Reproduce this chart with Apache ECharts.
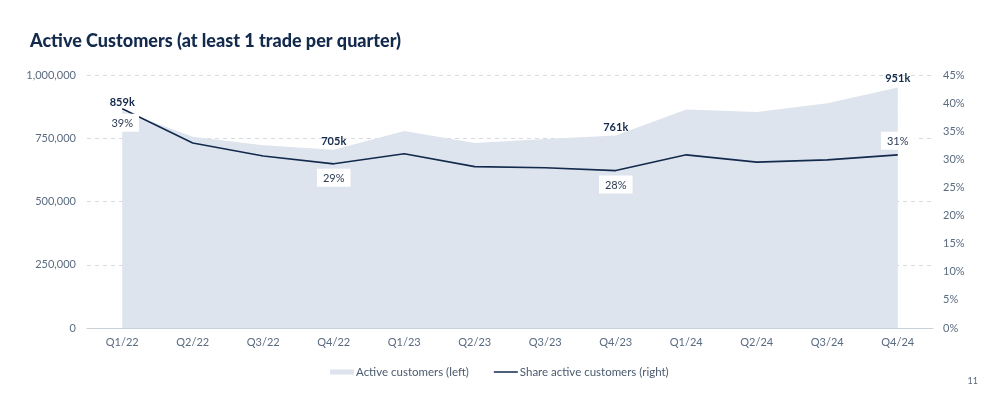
<!DOCTYPE html>
<html><head><meta charset="utf-8">
<script src="https://cdn.jsdelivr.net/npm/echarts@6/dist/echarts.min.js"></script>
<style>html,body{margin:0;padding:0;background:#fff}#c{width:987px;height:394px}</style>
</head><body><div id="c"></div>
<script>
const categories = ['Q1/22','Q2/22','Q3/22','Q4/22','Q1/23','Q2/23','Q3/23','Q4/23','Q1/24','Q2/24','Q3/24','Q4/24'];
const activeCustomers = [859000, 756000, 722000, 705000, 779000, 731000, 747000, 761000, 864000, 854000, 888000, 951000];
const shareActive = [39, 32.9, 30.6, 29.2, 31, 28.7, 28.5, 28, 30.8, 29.5, 29.9, 30.8];
const labelIdx = [0, 3, 7, 11];
const customerLabels = ['859k','705k','761k','951k'];
const shareLabels = ['39%','29%','28%','31%'];
const shareLabelPos = ['bottom','bottom','bottom','top'];

const FONT = 'Lato';
const NAVY = '#132a4c';
const GREY = '#5b6b80';
const AREA = '#dde4ed';

const areaData = activeCustomers.map((v, i) => {
  const k = labelIdx.indexOf(i);
  return k >= 0 ? { value: v, label: { show: true, formatter: customerLabels[k] } } : v;
});
const lineData = shareActive.map((v, i) => {
  const k = labelIdx.indexOf(i);
  return k >= 0 ? { value: v, label: { show: true, formatter: shareLabels[k], position: shareLabelPos[k] } } : v;
});

const chart = echarts.init(document.getElementById('c'), null, { renderer: 'canvas' });
chart.setOption({
  animation: false,
  textStyle: { fontFamily: FONT },
  title: {
    text: 'Active Customers (at least 1 trade per quarter)',
    left: 25, top: 27,
    textStyle: { fontFamily: FONT, fontWeight: 900, fontSize: 18, color: NAVY }
  },
  graphic: [{ type: 'text', right: 9, top: 377, style: { text: '11', fontFamily: FONT, fontSize: 9, fill: GREY } }],
  legend: {
    left: 325, top: 361,
    itemWidth: 24, itemHeight: 5, itemGap: 25,
    textStyle: { fontFamily: FONT, fontSize: 11.5, color: '#4a5a6e', padding: [0, 0, 0, -3] },
    data: [
      { name: 'Active customers (left)', icon: 'rect' },
      { name: 'Share active customers (right)', icon: 'path://M0,0H24V1.5H0Z' }
    ]
  },
  grid: { left: 87, right: 54, top: 75, bottom: 66 },
  xAxis: {
    type: 'category', data: categories, boundaryGap: true,
    axisLine: { lineStyle: { color: '#c9d0d8' } },
    axisTick: { show: false },
    axisLabel: { color: GREY, fontSize: 11, margin: 9, fontFamily: FONT }
  },
  yAxis: [
    {
      type: 'value', min: 0, max: 1000000, interval: 250000,
      axisLine: { show: false }, axisTick: { show: false },
      axisLabel: { color: GREY, fontSize: 11, margin: 11, fontFamily: FONT,
        formatter: v => v.toLocaleString('en-US') },
      splitLine: { lineStyle: { color: '#d5dae0', type: [4, 4] } }
    },
    {
      type: 'value', min: 0, max: 45, interval: 5,
      axisLine: { show: false }, axisTick: { show: false },
      axisLabel: { color: GREY, fontSize: 11, margin: 10, fontFamily: FONT, formatter: '{value}%' },
      splitLine: { show: false }
    }
  ],
  series: [
    {
      name: 'Active customers (left)', type: 'line', yAxisIndex: 0,
      data: areaData, symbol: 'circle', symbolSize: 0.01, showSymbol: true, color: AREA,
      lineStyle: { width: 0, color: AREA },
      areaStyle: { color: AREA, opacity: 1 },
      itemStyle: { color: AREA },
      label: { position: 'top', distance: 3, color: NAVY, fontWeight: 'bold', fontSize: 11, fontFamily: FONT },
      z: 2
    },
    {
      name: 'Share active customers (right)', type: 'line', yAxisIndex: 1,
      data: lineData, symbol: 'circle', symbolSize: 0.01, showSymbol: true, color: NAVY,
      lineStyle: { width: 1.6, color: NAVY },
      itemStyle: { color: NAVY },
      label: { color: '#2c3d55', fontSize: 11, fontFamily: FONT, backgroundColor: '#ffffff',
        padding: [4, 6, 3, 6], distance: 5 },
      z: 3
    }
  ]
});
</script></body></html>
